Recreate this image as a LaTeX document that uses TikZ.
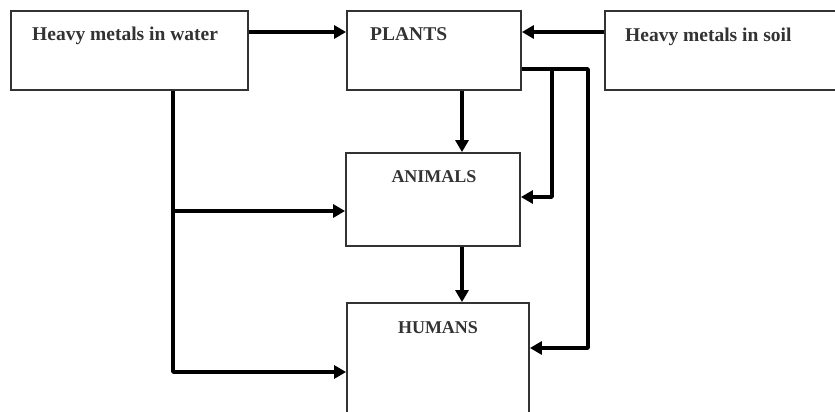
\documentclass[tikz,border=0pt]{standalone}
\usepackage{fontspec}
\setmainfont{Liberation Serif}
\usetikzlibrary{arrows.meta}
\begin{document}
\begin{tikzpicture}[x=1pt,y=-1pt,
  box/.style={draw=black!80,line width=1.8pt,rectangle,inner sep=0pt,fill=white},
  lbl/.style={text=black!80,font=\fontsize{19.5}{22}\selectfont\bfseries,inner sep=0pt},
  lbls/.style={text=black!80,font=\fontsize{18}{21}\selectfont\bfseries,inner sep=0pt},
  arr/.style={line width=3.8pt,line join=round,-{Triangle[length=12pt,width=13pt]}},
  ln/.style={line width=3.8pt,line join=round}]
\useasboundingbox (0,0) rectangle (835,412);
\node[box,minimum width=237pt,minimum height=79pt] (water) at (129.5,50.5) {};
\node[box,minimum width=174pt,minimum height=79pt] (plants) at (434,50.5) {};
\node[box,minimum width=235pt,minimum height=79pt] (soil) at (722.5,50.5) {};
\node[box,minimum width=174pt,minimum height=93pt] (animals) at (433,199.5) {};
\node[box,minimum width=182pt,minimum height=117pt] (humans) at (438,361.5) {};
\node[lbl,anchor=base west] (twater) at (32,41) {Heavy metals in water};
\node[lbl,anchor=base west] (tplants) at (370,41) {PLANTS};
\node[lbl,anchor=base west] (tsoil) at (625,42) {Heavy metals in soil};
\node[lbls,anchor=base] (tanimals) at (434,182) {ANIMALS};
\node[lbls,anchor=base] (thumans) at (438,333) {HUMANS};
% connectors
\coordinate (wj) at (173,372);
\coordinate (wb) at (173,211);
\coordinate (pr) at (588,69);
\coordinate (prd) at (588,348);
\coordinate (pm) at (552,69);
\coordinate (pmd) at (552,197);
\draw[arr] (water.east |- 0,32) -- (plants.west |- 0,32);
\draw[arr] (soil.west |- 0,32) -- (plants.east |- 0,32);
\draw[arr] (plants.south -| 462,0) -- (animals.north -| 462,0);
\draw[arr] (animals.south -| 462,0) -- (humans.north -| 462,0);
\draw[arr] (plants.east |- pr) -- (pr) -- (prd) -- (humans.east |- prd);
\draw[arr] (pm) -- (pmd) -- (animals.east |- pmd);
\draw[arr] (water.south -| wj) -- (wj) -- (humans.west |- wj);
\draw[arr] (wb) -- (animals.west |- wb);
\end{tikzpicture}
\end{document}
